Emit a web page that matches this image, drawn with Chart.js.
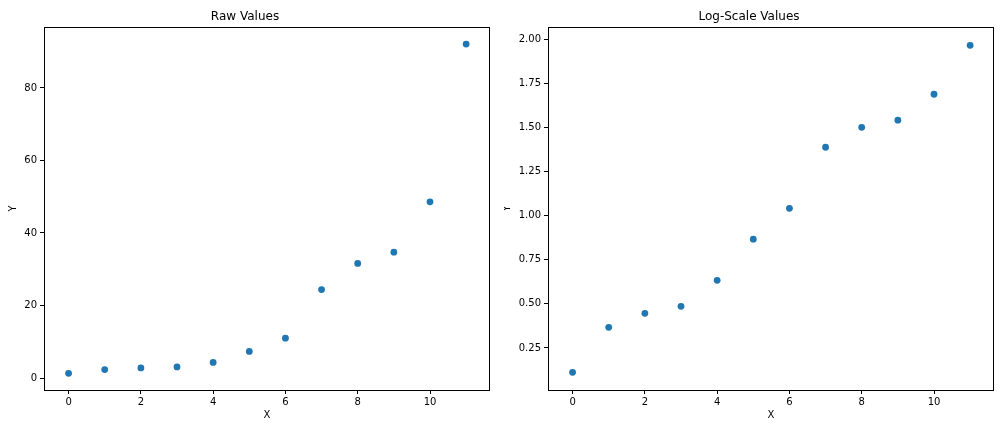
<!DOCTYPE html>
<html>
<head>
<meta charset="utf-8">
<script src="https://cdn.jsdelivr.net/npm/chart.js@4"></script>
<style>
  body { margin: 0; background: #fff; }
  #wrap { position: relative; width: 1008px; height: 432px; }
  canvas { position: absolute; top: 0; }
  #rawChart { left: 0; }
  #logChart { left: 504px; }
</style>
</head>
<body>
<div id="wrap">
  <canvas id="rawChart" width="504" height="432"></canvas>
  <canvas id="logChart" width="504" height="432"></canvas>
</div>
<script>
// data
let xs = [0, 1, 2, 3, 4, 5, 6, 7, 8, 9, 10, 11];
let rawValues = [1.29, 2.33, 2.79, 3.06, 4.3, 7.35, 10.99, 24.4, 31.6, 34.7, 48.6, 92.1];
let logValues = [0.112, 0.367, 0.446, 0.486, 0.633, 0.866, 1.041, 1.387, 1.50, 1.540, 1.687, 1.964];

let xTicks = [0, 2, 4, 6, 8, 10];
let rawTicks = [0, 20, 40, 60, 80];
let logTicks = [0.25, 0.50, 0.75, 1.00, 1.25, 1.50, 1.75, 2.00];

Chart.defaults.font.family = 'DejaVu Sans';
Chart.defaults.color = '#000';

// matplotlib-style box round the plot area
const frame = {
    id: 'frame',
    afterDraw(chart) {
        const a = chart.chartArea;
        const c = chart.ctx;
        c.save();
        c.strokeStyle = '#000';
        c.lineWidth = 1;
        c.strokeRect(Math.round(a.left) + 0.5, Math.round(a.top) + 0.5,
            Math.round(a.right - a.left) - 1, Math.round(a.bottom - a.top));
        c.restore();
    }
};

function points(ys) {
    return xs.map((x, i) => ({ x: x, y: ys[i] }));
}

function makeChart(id, title, ys, yTicks, yMin, yMax, yDigits, yLabelPad) {
    let ctx = document.getElementById(id).getContext('2d');
    return new Chart(ctx, {
        type: 'scatter',
        data: {
            datasets: [{
                data: points(ys),
                backgroundColor: '#1f77b4',
                borderWidth: 0,
                pointRadius: 3.4,
                pointHoverRadius: 3.4
            }]
        },
        options: {
            responsive: false,
            animation: false,
            layout: { padding: { left: 0, right: 14, top: 0, bottom: 0 } },
            plugins: {
                legend: { display: false },
                tooltip: { enabled: false },
                title: {
                    display: true,
                    text: title,
                    color: '#000',
                    font: { size: 12, weight: 'normal' },
                    padding: { top: 9.5, bottom: 3.1 }
                }
            },
            scales: {
                x: {
                    type: 'linear',
                    min: -0.68,
                    max: 11.66,
                    afterBuildTicks: s => { s.ticks = xTicks.map(v => ({ value: v })); },
                    afterFit: s => { s.height = 42; },
                    ticks: { font: { size: 10 }, padding: 2, maxRotation: 0 },
                    grid: { drawOnChartArea: false, drawTicks: true, tickLength: 4, color: '#000' },
                    border: { display: false },
                    title: { display: true, text: 'X', font: { size: 10 }, padding: { top: 0, bottom: 11 } }
                },
                y: {
                    type: 'linear',
                    min: yMin,
                    max: yMax,
                    afterBuildTicks: s => { s.ticks = yTicks.map(v => ({ value: v })); },
                    afterFit: s => { s.width = 44; },
                    ticks: {
                        font: { size: 10 },
                        padding: 3,
                        callback: v => v.toFixed(yDigits)
                    },
                    grid: { drawOnChartArea: false, drawTicks: true, tickLength: 4, color: '#000' },
                    border: { display: false },
                    title: { display: true, text: 'Y', font: { size: 10 }, padding: { top: yLabelPad, bottom: 0 } }
                }
            }
        },
        plugins: [frame]
    });
}

let rawChart = makeChart('rawChart', 'Raw Values', rawValues, rawTicks, -3.3, 96.8, 0, 7);
let logChart = makeChart('logChart', 'Log-Scale Values', logValues, logTicks, 0.012, 2.068, 2, -2.5);
</script>
</body>
</html>
